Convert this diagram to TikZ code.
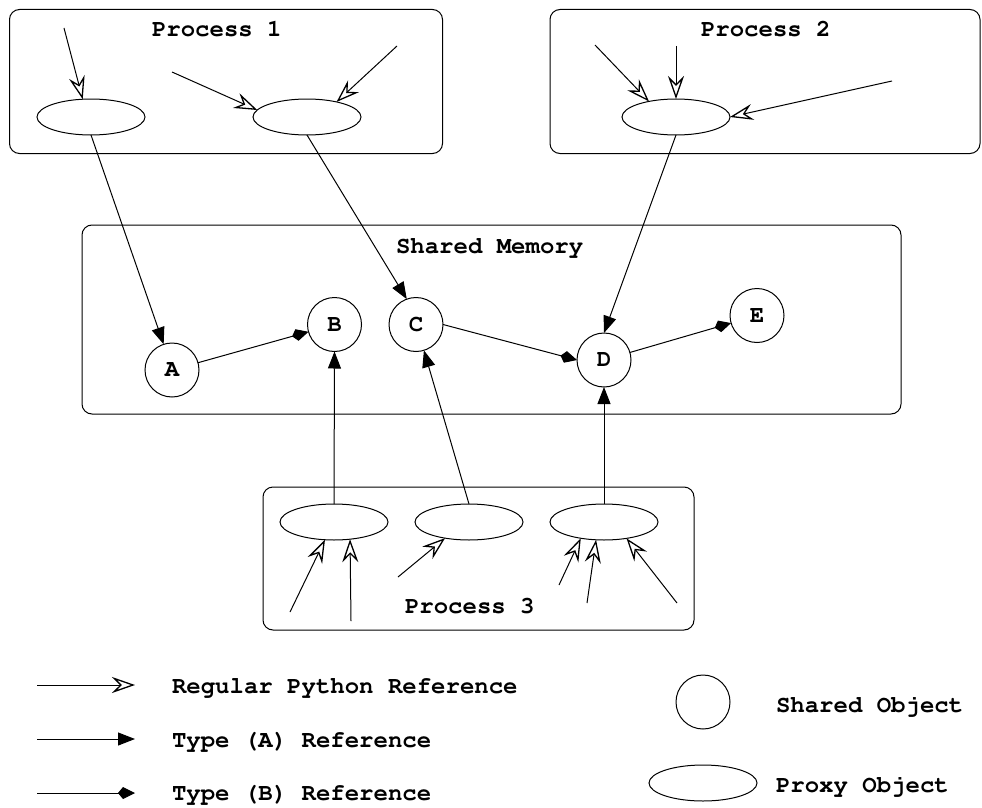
\documentclass[tikz,border=0pt]{standalone}
\usepackage[T1]{fontenc}
\usepackage{courier}
\usetikzlibrary{arrows.meta,shapes.geometric}
\begin{document}
\begin{tikzpicture}[x=1pt,y=-1pt,
  every node/.style={font=\fontsize{24}{28}\selectfont\ttfamily\bfseries},
  every path/.style={line width=1pt},
  procbox/.style={draw, rounded corners=10pt, inner sep=0pt, outer sep=0pt},
  obj/.style={draw, circle, minimum size=54pt, inner sep=0pt, outer sep=0pt},
  proxy/.style={draw, ellipse, minimum width=108pt, minimum height=36pt, inner sep=0pt, outer sep=0pt},
  reg/.style={-{Stealth[open, length=23pt, width=16pt, inset=8pt, line width=1.3pt]}},
  typea/.style={-{Triangle[length=17pt, width=13pt]}},
  typeb/.style={-{Kite[length=17pt, width=12pt, inset=5pt]}},
  lbl/.style={anchor=base west, inner sep=0pt, outer sep=0pt}
]
\useasboundingbox (0,0) rectangle (982,808);

% boxes
\node[procbox, minimum width=433pt, minimum height=144pt] (P1) at (226,81.5) {};
\node[procbox, minimum width=430pt, minimum height=144pt] (P2) at (765,81.5) {};
\node[procbox, minimum width=819pt, minimum height=189pt] (SM) at (491.5,319.5) {};
\node[procbox, minimum width=431pt, minimum height=143pt] (P3) at (478.5,558.5) {};

\node[lbl] (t1) at (152,37) {Process 1};
\node[lbl] (t2) at (701,37) {Process 2};
\node[lbl] (t3) at (396,253) {Shared Memory};
\node[lbl] (t4) at (405,613) {Process 3};

% proxies
\node[proxy] (p1a) at (91,117) {};
\node[proxy] (p1b) at (307,117) {};
\node[proxy] (p2a) at (676,117) {};
\node[proxy] (p3a) at (334,522) {};
\node[proxy] (p3b) at (469,522) {};
\node[proxy] (p3c) at (604,522) {};

% shared objects
\node[obj] (A) at (172,370) {A};
\node[obj] (B) at (334.5,324.5) {B};
\node[obj] (C) at (416,324.5) {C};
\node[obj] (D) at (604,360) {D};
\node[obj] (E) at (757,315.5) {E};

% proxy -> shared
\draw[typea] (p1a.south) -- (A.108);
\draw[typea] (p1b.south) -- (C.110);
\draw[typea] (p2a.south) -- (D.north);
\draw[typea] (p3a.north) -- (B.south);
\draw[typea] (p3b.north) -- (C.-73);
\draw[typea] (p3c.north) -- (D.south);

% shared -> shared
\draw[typeb] (A) -- (B);
\draw[typeb] (C.east) -- (D.west);
\draw[typeb] (D) -- (E);

% free references
\coordinate (r1) at (64,28);
\coordinate (r2) at (172,72);
\coordinate (r3) at (397,46);
\coordinate (r4) at (595,45);
\coordinate (r5) at (676,46);
\coordinate (r6) at (892,81);
\coordinate (r7) at (290,612);
\coordinate (r8) at (351,621);
\coordinate (r9) at (398,577);
\coordinate (r10) at (559,585);
\coordinate (r11) at (587,603);
\coordinate (r12) at (677,603);

\draw[reg] (r1) -- (p1a.115);
\draw[reg] (r2) -- (p1b.172);
\draw[reg] (r3) -- (p1b.27);
\draw[reg] (r4) -- (p2a.150);
\draw[reg] (r5) -- (p2a.north);
\draw[reg] (r6) -- (p2a.east);
\draw[reg] (r7) -- (p3a.243);
\draw[reg] (r8) -- (p3a.-47);
\draw[reg] (r9) -- (p3b.214);
\draw[reg] (r10) -- (p3c.215);
\draw[reg] (r11) -- (p3c.246);
\draw[reg] (r12) -- (p3c.-36);

% legend
\coordinate (l1s) at (37,685); \coordinate (l1e) at (135,685);
\coordinate (l2s) at (37,739); \coordinate (l2e) at (135,739);
\coordinate (l3s) at (37,793); \coordinate (l3e) at (135,793);
\draw[reg] (l1s) -- (l1e);
\draw[typea] (l2s) -- (l2e);
\draw[typeb] (l3s) -- (l3e);
\node[lbl] (lt1) at (172,693) {Regular Python Reference};
\node[lbl] (lt2) at (172,747) {Type (A) Reference};
\node[lbl] (lt3) at (172,800) {Type (B) Reference};

\node[obj] (lobj) at (703,702) {};
\node[proxy] (lprx) at (703,783) {};
\node[lbl] (lt4) at (776,712) {Shared Object};
\node[lbl] (lt5) at (776,792) {Proxy Object};
\end{tikzpicture}
\end{document}
